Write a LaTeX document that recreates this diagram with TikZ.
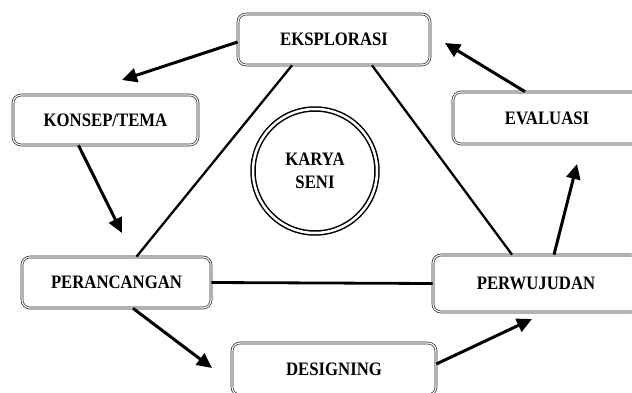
\documentclass[tikz,border=0pt]{standalone}
\usepackage{fontspec}
\setmainfont{Liberation Serif}
\newfontfamily\stagefont[FakeStretch=0.88]{Liberation Serif}
\usetikzlibrary{arrows.meta, calc}

\begin{document}
\begin{tikzpicture}[
    x=1pt, y=1pt,
    stage/.style={rectangle, draw=black!85, double=white, double distance=1.2pt, line width=0.7pt, rounded corners=8pt, align=center, font=\stagefont\bfseries\fontsize{19}{21}\selectfont},
    core/.style={circle, draw, double=white, double distance=2.5pt, line width=1.5pt, minimum size=124pt, align=center, font=\stagefont\bfseries\fontsize{19}{23}\selectfont},
    arrow/.style={-{Triangle[length=15pt, width=14pt]}, line width=3pt},
    link/.style={line width=2.3pt}
]
\useasboundingbox (0,0) rectangle (632,392);

\node[stage, minimum width=192pt, minimum height=51pt] (eksplorasi) at (334,352.5) {EKSPLORASI};
\node[stage, minimum width=185pt, minimum height=50pt] (konsep) at (105.5,272) {KONSEP/TEMA};
\node[stage, minimum width=188pt, minimum height=52pt] (evaluasi) at (547,274) {EVALUASI};
\node[stage, minimum width=189pt, minimum height=51pt] (perancangan) at (116.5,109.5) {PERANCANGAN};
\node[stage, minimum width=206pt, minimum height=57pt] (perwujudan) at (536,108.5) {PERWUJUDAN};
\node[stage, minimum width=204pt, minimum height=52pt] (designing) at (334,23) {DESIGNING};
\node[core] (karya) at (315,221) {KARYA\\SENI};

% free ends of the arrows
\coordinate (tkonsep) at (122,312);
\coordinate (tperancangan) at (122,159);
\coordinate (tdesigning) at (212,24);
\coordinate (tperwujudan) at (532,73);
\coordinate (tevaluasi) at (577,228);
\coordinate (teksplorasi) at (445,349);

\draw[link] ([xshift=-42pt]eksplorasi.south) -- ([xshift=20pt]perancangan.north);
\draw[link] ([xshift=38pt]eksplorasi.south) -- ([xshift=-24pt]perwujudan.north);
\draw[link, line width=2.8pt] (perancangan.east) -- (perwujudan.west);

\draw[arrow] ([yshift=-2.5pt]eksplorasi.west) -- (tkonsep);
\draw[arrow] ([xshift=-27pt]konsep.south) -- (tperancangan);
\draw[arrow] ([xshift=16.5pt]perancangan.south) -- (tdesigning);
\draw[arrow] ([yshift=5pt]designing.east) -- (tperwujudan);
\draw[arrow] ([xshift=18pt]perwujudan.north) -- (tevaluasi);
\draw[arrow] ([xshift=-22pt]evaluasi.north) -- (teksplorasi);

\end{tikzpicture}
\end{document}
